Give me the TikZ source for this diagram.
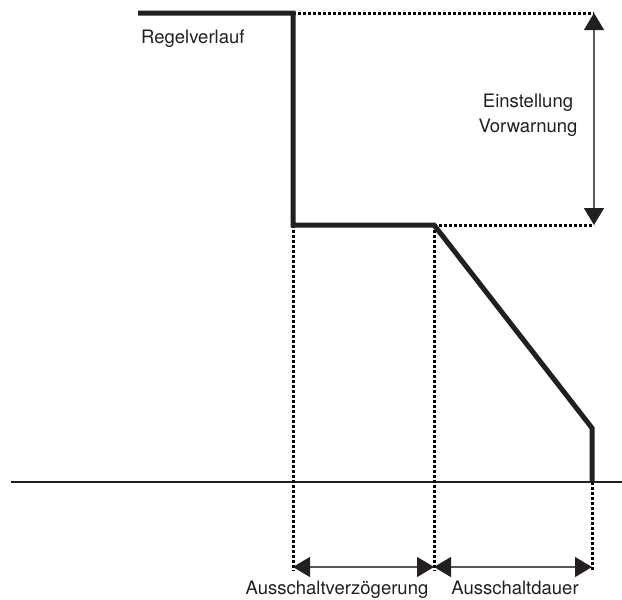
\documentclass[tikz,border=0pt]{standalone}
\usepackage{fontspec}
\setmainfont{TeX Gyre Heros}
\usetikzlibrary{arrows.meta}
\definecolor{ink}{HTML}{231F20}
\tikzset{
  curve/.style={ink, line width=5pt, line join=miter},
  dotline/.style={black, line width=3pt, dash pattern=on 2.6pt off 2.4pt},
  axis/.style={ink, line width=2.6pt},
  dimarrow/.style={ink!75, line width=1.2pt, {Triangle[length=17pt,width=20pt,color=ink,fill=ink]}-{Triangle[length=17pt,width=20pt,color=ink,fill=ink]}},
  lbl/.style={text=ink, font=\fontsize{18.5}{25}\selectfont, inner sep=0pt},
}
\begin{document}
\begin{tikzpicture}[x=1pt,y=-1pt]
\useasboundingbox (0,0) rectangle (622,600);
% key points
\coordinate (s0) at (138,13);
\coordinate (s1) at (293,13);
\coordinate (s2) at (293,225);
\coordinate (s3) at (434,225);
\coordinate (s4) at (592,428);
\coordinate (s5) at (592,482);
\coordinate (ax0) at (11,482);
\coordinate (ax1) at (622,482);
\coordinate (tr) at (594,13);
\coordinate (br) at (594,225);
\coordinate (d1) at (293,571);
\coordinate (d2) at (434,571);
\coordinate (d3) at (592,571);
\coordinate (a1) at (293,567);
\coordinate (a2) at (434,567);
\coordinate (a3) at (592,567);
% axis
\draw[axis] (ax0) -- (ax1);
% dotted guides
\draw[dotline] (s1) -- (tr);
\draw[dotline] (s3) -- (br);
\draw[dotline] (s2) -- (d1);
\draw[dotline] (s3) -- (d2);
\draw[dotline] (s5) -- (d3);
% control curve
\draw[curve] (s0) -- (s1) -- (s2) -- (s3) -- (s4) -- (s5);
% dimension arrows
\draw[dimarrow] (tr) -- (br);
\draw[dimarrow] (a1) -- (a2);
\draw[dimarrow] (a2) -- (a3);
% labels
\node[lbl, anchor=base west] (reg) at (141,43) {Regelverlauf};
\node[lbl, anchor=base] (ein) at (528,107) {Einstellung};
\node[lbl, anchor=base] (vor) at (528,132) {Vorwarnung};
\node[lbl, anchor=base] (av) at (337,594) {Ausschaltverzögerung};
\node[lbl, anchor=base] (ad) at (515,594) {Ausschaltdauer};
\end{tikzpicture}
\end{document}
